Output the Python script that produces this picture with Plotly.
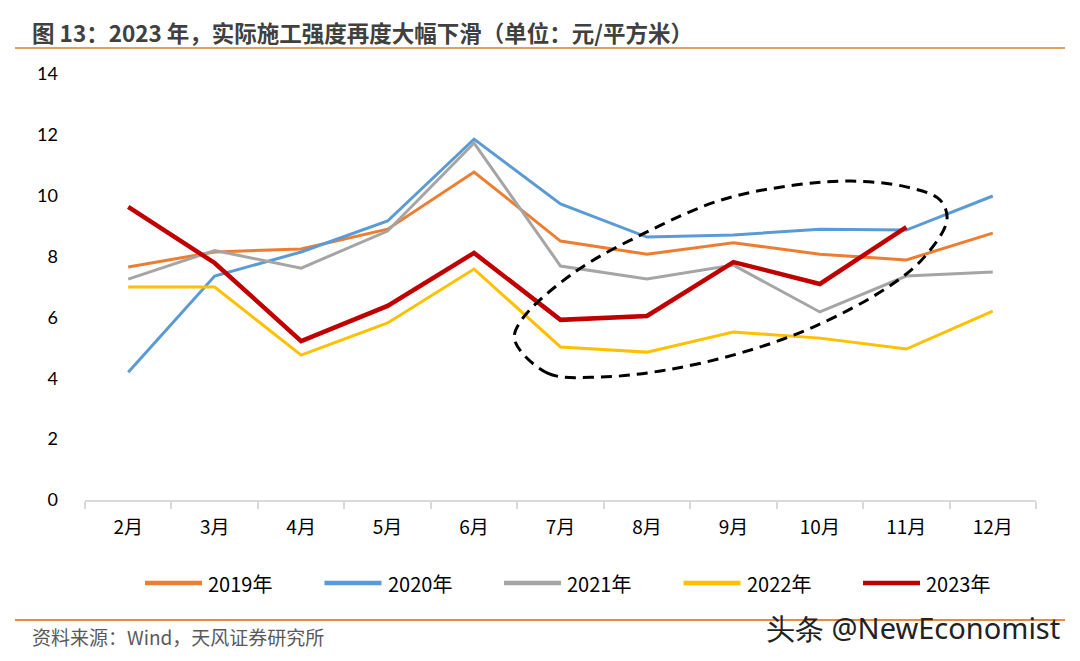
import plotly.graph_objects as go

months = ["2月", "3月", "4月", "5月", "6月", "7月", "8月", "9月", "10月", "11月", "12月"]
y2019 = [7.66, 8.15, 8.25, 8.9, 10.78, 8.51, 8.08, 8.45, 8.08, 7.89, 8.77]
y2020 = [4.2, 7.36, 8.15, 9.17, 11.86, 9.73, 8.64, 8.71, 8.9, 8.87, 9.99]
y2021 = [7.26, 8.2, 7.62, 8.84, 11.73, 7.69, 7.26, 7.72, 6.18, 7.36, 7.49]
y2022 = [7.0, 7.0, 4.76, 5.82, 7.59, 5.03, 4.86, 5.52, 5.32, 4.96, 6.21]
y2023 = [9.63, 7.79, 5.22, 6.38, 8.12, 5.92, 6.05, 7.82, 7.1, 8.97]

series_names = ["2019年", "2020年", "2021年", "2022年", "2023年"]
series_values = [y2019, y2020, y2021, y2022, y2023]
series_colors = ["#ED7D31", "#5B9BD5", "#A5A5A5", "#FFC000", "#C00000"]
series_widths = [3, 3, 3, 3, 4.5]

# highlight ellipse outline (category index, value)
ell_x = [4.47, 4.85, 5.45, 6.22, 7.08, 7.93, 8.79, 9.21, 9.47, 9.39, 9.0, 8.36, 7.71, 6.86, 6.0, 5.15, 4.55, 4.47]
ell_y = [5.26, 4.17, 4.04, 4.27, 4.83, 5.69, 7.0, 7.99, 9.2, 9.86, 10.29, 10.48, 10.35, 9.86, 8.81, 7.46, 5.92, 5.26]

W, H = 1080, 661
L, R, T, B = 85, 44, 74, 161
PW, PH = W - L - R, H - T - B


def px(x):
    return (x - L) / PW


def py(y):
    return (H - B - y) / PH


fig = go.Figure()
for name, vals, color, w in zip(series_names, series_values, series_colors, series_widths):
    fig.add_trace(go.Scatter(x=months[:len(vals)], y=vals, mode="lines", name=name,
                             line=dict(color=color, width=w), showlegend=False))

fig.add_trace(go.Scatter(x=ell_x, y=ell_y, mode="lines", xaxis="x2", showlegend=False,
                         line=dict(color="black", width=3, dash="11px,7px", shape="spline"),
                         hoverinfo="skip"))

font_cjk = "Noto Sans CJK SC"
fig.update_layout(
    width=W, height=H,
    paper_bgcolor="white", plot_bgcolor="white",
    margin=dict(l=L, r=R, t=T, b=B, autoexpand=False),
    font=dict(family=font_cjk, color="#000000"),
    xaxis=dict(type="category", categoryorder="array", categoryarray=months,
               range=[-0.5, 10.5], showgrid=False, showline=True, linecolor="#D9D9D9",
               linewidth=2, ticks="outside", tickson="boundaries", ticklen=7,
               tickcolor="#D9D9D9", tickwidth=1.5, ticklabelstandoff=9, automargin=False,
               tickfont=dict(size=19, family=font_cjk, color="#000000"), zeroline=False),
    xaxis2=dict(overlaying="x", range=[-0.5, 10.5], visible=False),
    yaxis=dict(range=[0, 14], dtick=2, showgrid=False, showline=False, zeroline=False,
               ticklabelstandoff=26, automargin=False,
               tickfont=dict(size=18, family="Lato", color="#000000")),
    showlegend=False,
)

# legend (drawn manually to mimic the long line samples)
for i, (name, color) in enumerate(zip(series_names, series_colors)):
    x0 = 145 + 179.5 * i
    fig.add_shape(type="line", xref="paper", yref="paper",
                  x0=px(x0), x1=px(x0 + 57), y0=py(583), y1=py(583),
                  line=dict(color=color, width=4.5))
    fig.add_annotation(text=name, xref="paper", yref="paper", x=px(x0 + 61), y=py(583),
                       xanchor="left", yanchor="middle", showarrow=False,
                       font=dict(size=20, color="#000000", family=font_cjk))

fig.add_annotation(text="<b>图 13：2023 年，实际施工强度再度大幅下滑（单位：元/平方米）</b>",
                   xref="paper", yref="paper", x=px(30), y=py(32),
                   xanchor="left", yanchor="middle", showarrow=False,
                   font=dict(size=22.5, color="#404040", family=font_cjk))
fig.add_annotation(text="资料来源：Wind，天风证券研究所",
                   xref="paper", yref="paper", x=px(30), y=py(636),
                   xanchor="left", yanchor="middle", showarrow=False,
                   font=dict(size=19, color="#595959", family=font_cjk))
fig.add_annotation(text="头条 @NewEconomist",
                   xref="paper", yref="paper", x=px(1062), y=py(627),
                   xanchor="right", yanchor="middle", showarrow=False,
                   font=dict(size=29, color="#222222", family="Noto Sans"))

fig.add_shape(type="line", xref="paper", yref="paper",
              x0=px(15), x1=px(1065), y0=py(48), y1=py(48),
              line=dict(color="#E0A060", width=2))
fig.add_shape(type="line", xref="paper", yref="paper",
              x0=px(15), x1=px(1065), y0=py(620), y1=py(620),
              line=dict(color="#E88A40", width=2))

fig.write_html("out.html", config={"displayModeBar": False},
               post_script="document.body.style.margin='0';document.body.style.overflow='hidden';")
